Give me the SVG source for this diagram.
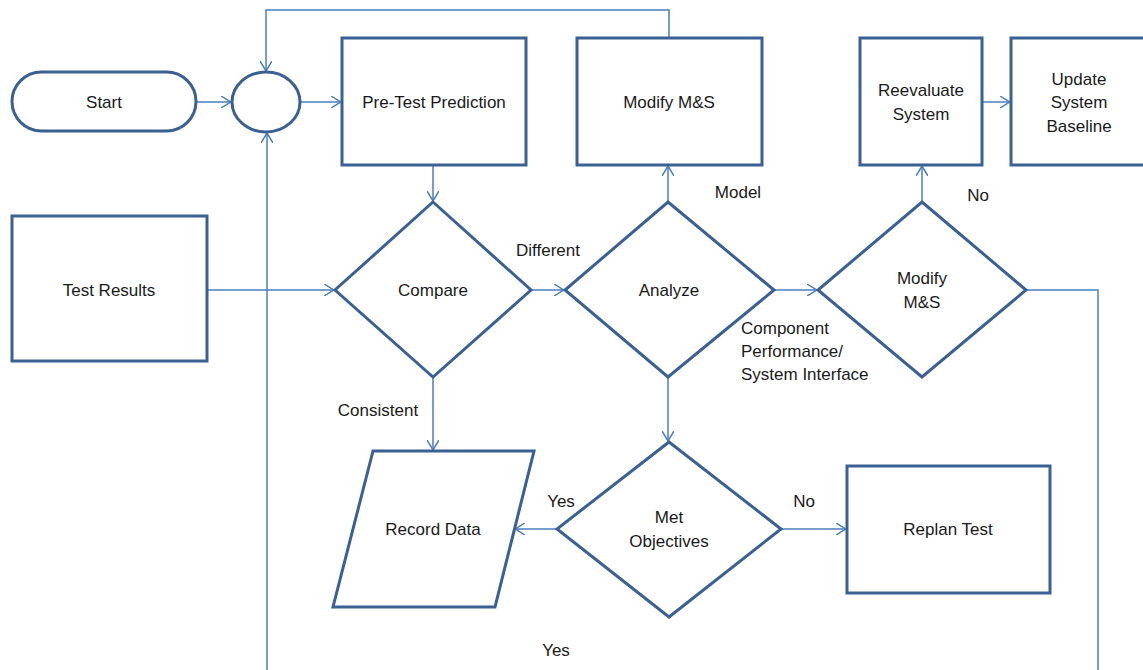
<svg xmlns="http://www.w3.org/2000/svg" width="1143" height="670" viewBox="0 0 1143 670">
<defs>
<marker id="arr" viewBox="0 0 10 12" refX="10" refY="6" markerWidth="10" markerHeight="12" markerUnits="userSpaceOnUse" orient="auto">
<path d="M0,0 L10,6 L0,12" fill="none" stroke="#4A7EBB" stroke-width="1.5"/>
</marker>
<style>
.n{fill:#fff;stroke:#3B6093;stroke-width:3}
.c{fill:none;stroke:#4A7EBB;stroke-width:1.5}
.ca{fill:none;stroke:#4A7EBB;stroke-width:1.5;marker-end:url(#arr)}
text{font-family:"Liberation Sans",Arial,sans-serif;font-size:17px;fill:#1a1a1a}
.m{text-anchor:middle}
</style>
</defs>
<rect width="1143" height="670" fill="#fff"/>
<g id="connectors">
<path class="ca" d="M196,102 H231"/>
<path class="ca" d="M300,102 H341"/>
<path class="ca" d="M669,38 V10 H266 V71"/>
<path class="ca" d="M267,670 V133"/>
<path class="ca" d="M433,165 V201"/>
<path class="ca" d="M207,290 H334"/>
<path class="ca" d="M531,290 H564"/>
<path class="ca" d="M668,202 V166"/>
<path class="ca" d="M774,290 H817"/>
<path class="ca" d="M922,202 V166"/>
<path class="ca" d="M982,102 H1010"/>
<path class="c" d="M1026,290 H1098 V670"/>
<path class="ca" d="M433,377 V450"/>
<path class="ca" d="M668,377 V441"/>
<path class="ca" d="M557,529 H515"/>
<path class="ca" d="M781,529 H846"/>
<text x="548" y="256" class="m">Different</text>
<text x="738" y="198" class="m">Model</text>
<text x="741" y="334">Component</text>
<text x="741" y="357">Performance/</text>
<text x="741" y="380">System Interface</text>
<text x="978" y="201" class="m">No</text>
<text x="378" y="416" class="m">Consistent</text>
<text x="561" y="507" class="m">Yes</text>
<text x="804" y="507" class="m">No</text>
<text x="556" y="656" class="m">Yes</text>
</g>
<g id="start"><rect class="n" x="12" y="72" width="184" height="59" rx="29.5"/><text x="104" y="108" class="m">Start</text></g>
<g id="junction"><ellipse class="n" cx="266" cy="102" rx="34" ry="30"/></g>
<g id="pretest"><rect class="n" x="342" y="38" width="184" height="127"/><text x="434" y="108" class="m">Pre-Test Prediction</text></g>
<g id="modifybox"><rect class="n" x="577" y="38" width="185" height="127"/><text x="669" y="108" class="m">Modify M&amp;S</text></g>
<g id="reevaluate"><rect class="n" x="860" y="38" width="122" height="127"/><text x="921" y="96" class="m">Reevaluate</text><text x="921" y="120" class="m">System</text></g>
<g id="update"><rect class="n" x="1011" y="38" width="140" height="127"/><text x="1079" y="85" class="m">Update</text><text x="1079" y="108" class="m">System</text><text x="1079" y="132" class="m">Baseline</text></g>
<g id="testresults"><rect class="n" x="12" y="216" width="195" height="145"/><text x="109" y="296" class="m">Test Results</text></g>
<g id="compare"><polygon class="n" points="433,202 531,290 433,377 335,290"/><text x="433" y="296" class="m">Compare</text></g>
<g id="analyze"><polygon class="n" points="668,202 774,290 668,377 565,290"/><text x="669" y="296" class="m">Analyze</text></g>
<g id="modifydiamond"><polygon class="n" points="922,202 1026,290 922,377 818,290"/><text x="922" y="284" class="m">Modify</text><text x="922" y="308" class="m">M&amp;S</text></g>
<g id="record"><polygon class="n" points="373,451 534,451 495,607 333,607"/><text x="433" y="535" class="m">Record Data</text></g>
<g id="met"><polygon class="n" points="669,442 781,529 669,617 557,529"/><text x="669" y="523" class="m">Met</text><text x="669" y="547" class="m">Objectives</text></g>
<g id="replan"><rect class="n" x="847" y="466" width="203" height="127"/><text x="948" y="535" class="m">Replan Test</text></g>
</svg>
